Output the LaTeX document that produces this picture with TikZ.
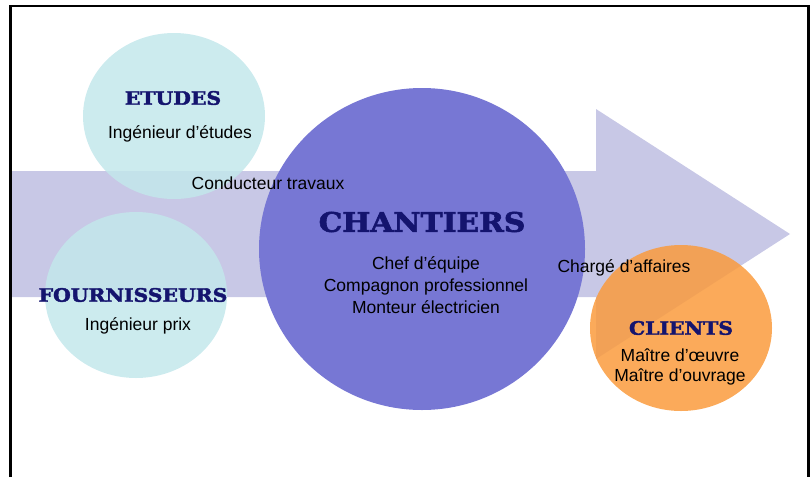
\documentclass[tikz,border=0pt]{standalone}
\usepackage{fontspec}
\setmainfont{Liberation Sans}
\newfontfamily\titlefont{DejaVu Serif Bold}[FakeStretch=1.1, FakeBold=2.2]
\usetikzlibrary{shapes.geometric}

\definecolor{flow}{RGB}{200,200,230}
\definecolor{paleblue}{RGB}{195,231,235}
\definecolor{siteblue}{RGB}{119,119,212}
\definecolor{clientorange}{RGB}{250,155,61}
\definecolor{navy}{RGB}{20,20,110}

\tikzset{
	bubble/.style={ellipse, inner sep=0pt, minimum width=182pt, minimum height=166pt, fill opacity=0.85},
	title/.style={font=\titlefont\fontsize{18.5}{20}\selectfont, text=navy},
	job/.style={font=\fontsize{17.5}{22}\selectfont, align=center}
}

\begin{document}
\begin{tikzpicture}[x=1pt, y=-1pt]
		\useasboundingbox (0, 0) rectangle (811, 477);

		\fill[flow] (10, 171) -- (596, 171) -- (596, 109) -- (790, 234) -- (596, 359) -- (596, 297) -- (10, 297) -- cycle;

		\node[bubble, fill=paleblue] (etudes) at (174, 116) {};
		\node[bubble, fill=paleblue] (fournisseurs) at (136, 295) {};
		\node[ellipse, inner sep=0pt, minimum width=326pt, minimum height=322pt, fill=siteblue] (chantiers) at (422, 249) {};
		\node[bubble, fill=clientorange] (clients) at (681, 328) {};

		\node[title] (etudesT) at (173, 98) {ETUDES};
		\node[job] (etudesJ) at (180, 134) {Ingénieur d’études};
		\node[job] (conducteur) at (268, 183) {Conducteur travaux};

		\node[title] (fournisseursT) at (133, 295) {FOURNISSEURS};
		\node[job] (fournisseursJ) at (138, 326) {Ingénieur prix};

		\node[title, font=\titlefont\fontsize{27}{30}\selectfont] (chantiersT) at (422, 222) {CHANTIERS};
		\node[job] (chantiersJ) at (426, 285) {Chef d’équipe\\Compagnon professionnel\\Monteur électricien};

		\node[job] (charge) at (624, 268) {Chargé d’affaires};

		\node[title] (clientsT) at (681, 328) {CLIENTS};
		\node[job, font=\fontsize{17.5}{20}\selectfont] (clientsJ) at (680, 367) {Maître d’œuvre\\Maître d’ouvrage};

		\draw[line width=2.5pt] (10.5, 477) -- (10.5, 6) -- (808.5, 6) -- (808.5, 477);
	\end{tikzpicture}
\end{document}
